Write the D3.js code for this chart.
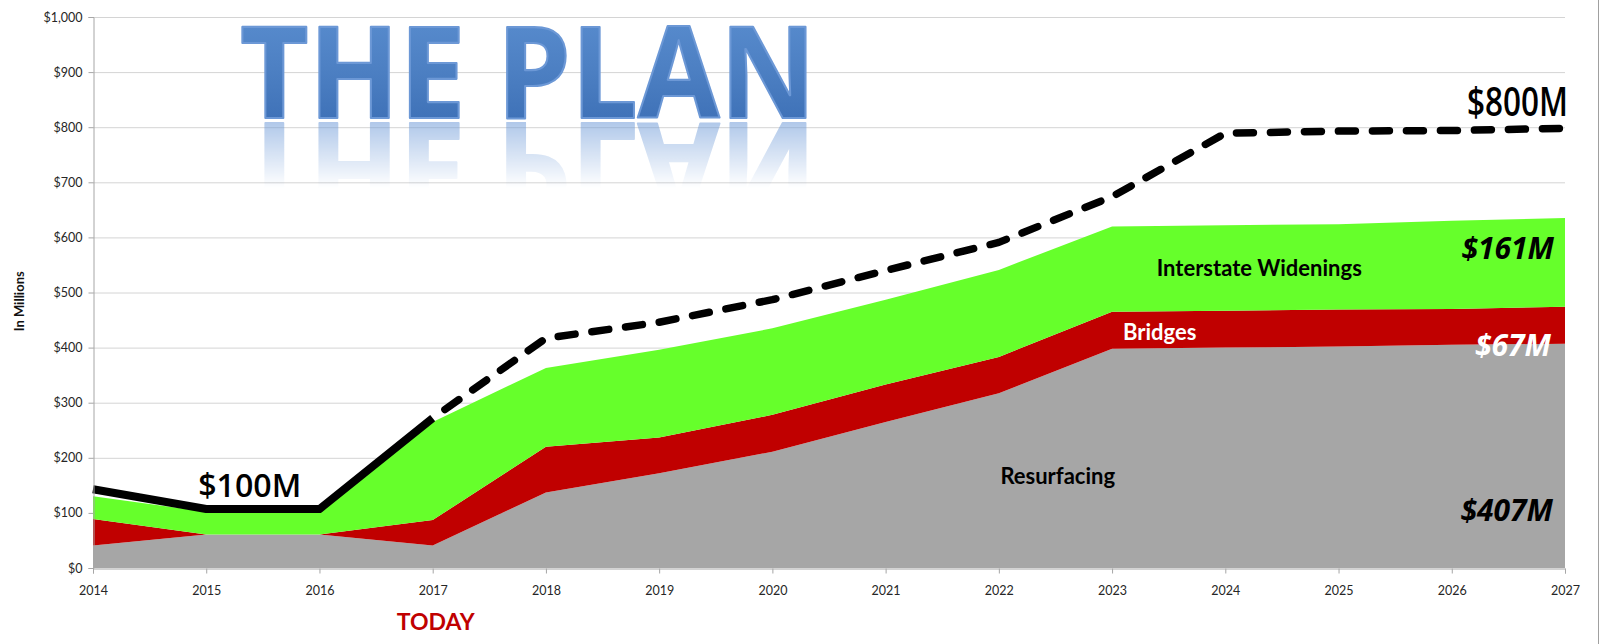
<!DOCTYPE html>
<html lang="en">
  <head>
    <meta charset="utf-8">
    <script src="https://cdn.jsdelivr.net/npm/d3@7"></script>
    <title>The Plan</title>
    <style>
      body { margin: 0; background: #fff; }
      text { font-family: Lato, "Open Sans", sans-serif; }
    </style>
  </head>
  <body>
    <script type="text/javascript">
      // values, in millions
      var years = [2014, 2015, 2016, 2017, 2018, 2019, 2020, 2021, 2022, 2023, 2024, 2025, 2026, 2027];
      var resurfacing = [41, 61, 61, 41, 137, 172, 211, 265, 317, 398, 400, 402, 405, 407];
      var bridges = [48, 0, 0, 46, 83, 65, 67, 68, 66, 67, 67, 67, 65, 67];
      var widenings = [41, 41, 41, 178, 143, 159, 157, 154, 158, 155, 155, 155, 160, 161];
      var total = [143, 107, 107, 272, 417, 446, 487, 540, 591, 674, 789, 793, 794, 798];
      var yTicks = [0, 100, 200, 300, 400, 500, 600, 700, 800, 900, 1000];
      var seriesNames = ["Resurfacing", "Bridges", "Interstate Widenings"];
      var seriesColors = ["#a6a6a6", "#c00000", "#66ff2b"];
      var todayYear = 2017;

      var w = 1601;
      var h = 644;
      var margin = { top: 17, left: 93, right: 36, bottom: 76 };

      var svg = d3.select("body").append("svg")
        .attr("width", w)
        .attr("height", h);

      var x = d3.scaleLinear()
        .domain([years[0], years[years.length - 1]])
        .range([margin.left, w - margin.right]);
      var y = d3.scaleLinear()
        .domain([0, 1000])
        .range([h - margin.bottom, margin.top]);

      // table for the stack
      var table = years.map(function(yr, i) {
        return { year: yr, "Resurfacing": resurfacing[i], "Bridges": bridges[i], "Interstate Widenings": widenings[i] };
      });

      // gridlines
      svg.append("g")
        .selectAll("line")
        .data(yTicks.slice(1))
        .enter()
        .append("line")
        .attr("x1", x.range()[0])
        .attr("x2", x.range()[1])
        .attr("y1", function(d) { return y(d) + 0.5; })
        .attr("y2", function(d) { return y(d) + 0.5; })
        .attr("stroke", "#d4d4d4")
        .attr("stroke-width", 1);

      // title with reflection
      var defs = svg.append("defs");
      var grad = defs.append("linearGradient")
        .attr("id", "titleGrad").attr("x1", 0).attr("y1", 0).attr("x2", 0).attr("y2", 1);
      grad.append("stop").attr("offset", "0%").attr("stop-color", "#7eaae3");
      grad.append("stop").attr("offset", "10%").attr("stop-color", "#5b8fd1");
      grad.append("stop").attr("offset", "50%").attr("stop-color", "#4d80c3");
      grad.append("stop").attr("offset", "100%").attr("stop-color", "#3568b0");
      var fade = defs.append("linearGradient")
        .attr("id", "fadeGrad").attr("x1", 0).attr("y1", 0).attr("x2", 0).attr("y2", 1);
      fade.append("stop").attr("offset", "0%").attr("stop-color", "#fff").attr("stop-opacity", 0.55);
      fade.append("stop").attr("offset", "100%").attr("stop-color", "#fff").attr("stop-opacity", 0);
      defs.append("mask").attr("id", "fadeMask")
        .append("rect")
        .attr("x", 200).attr("y", 122).attr("width", 680).attr("height", 66)
        .attr("fill", "url(#fadeGrad)");

      var titleX = 240, titleBase = 118, titleLen = 576;
      function titleText(g) {
        return g.append("text")
          .attr("x", titleX)
          .attr("y", titleBase)
          .attr("textLength", titleLen)
          .attr("lengthAdjust", "spacingAndGlyphs")
          .style("font-family", "'Open Sans', sans-serif")
          .style("font-weight", 700)
          .style("font-size", "127px")
          .attr("stroke-linejoin", "round")
          .text("THE PLAN");
      }
      titleText(svg.append("g").attr("mask", "url(#fadeMask)"))
        .attr("transform", "translate(0," + (2 * titleBase + 5) + ") scale(1,-1)")
        .attr("fill", "#6f9bd8")
        .attr("stroke", "#6f9bd8")
        .attr("stroke-width", 2);
      titleText(svg)
        .attr("fill", "url(#titleGrad)")
        .attr("stroke", "#6c98d6")
        .attr("stroke-width", 2.2);

      // stacked areas
      var stack = d3.stack().keys(seriesNames);
      var layers = stack(table);
      var area = d3.area()
        .x(function(d) { return x(d.data.year); })
        .y0(function(d) { return y(d[0]); })
        .y1(function(d) { return y(d[1]); });
      svg.append("g")
        .selectAll("path")
        .data(layers)
        .enter()
        .append("path")
        .attr("d", area)
        .attr("fill", function(d, i) { return seriesColors[i]; });

      // total line: solid up to today, dashed after
      var totals = years.map(function(yr, i) { return { year: yr, v: total[i] }; });
      var line = d3.line()
        .x(function(d) { return x(d.year); })
        .y(function(d) { return y(d.v); });
      svg.append("path")
        .datum(totals.filter(function(d) { return d.year <= todayYear; }))
        .attr("d", line)
        .attr("fill", "none")
        .attr("stroke", "#000")
        .attr("stroke-width", 8)
        .attr("stroke-linejoin", "round");
      svg.append("path")
        .datum(totals.filter(function(d) { return d.year >= todayYear; }))
        .attr("d", line)
        .attr("fill", "none")
        .attr("stroke", "#000")
        .attr("stroke-width", 7.5)
        .attr("stroke-linecap", "round")
        .attr("stroke-linejoin", "round")
        .attr("stroke-dasharray", "17,17")
        .attr("stroke-dashoffset", -15);

      // axes
      var yaxis = d3.axisLeft(y).tickValues(yTicks).tickFormat(d3.format("$,")).tickSize(5).tickPadding(6);
      var xaxis = d3.axisBottom(x).tickValues(years).tickFormat(d3.format("d")).tickSize(5).tickPadding(13);
      var gy = svg.append("g")
        .attr("transform", "translate(" + (margin.left + 0.5) + ",0)")
        .call(yaxis);
      var gx = svg.append("g")
        .attr("transform", "translate(0," + (h - margin.bottom + 0.5) + ")")
        .call(xaxis);
      [gx, gy].forEach(function(g) {
        g.select(".domain").attr("stroke", "#a6a6a6");
        g.selectAll(".tick line").attr("stroke", "#a6a6a6");
        g.selectAll(".tick text")
          .attr("fill", "#262626")
          .style("font-family", "Lato, sans-serif")
          .style("font-size", "12.5px");
      });

      // right border
      svg.append("line")
        .attr("x1", w - 2.5).attr("x2", w - 2.5)
        .attr("y1", 0).attr("y2", h)
        .attr("stroke", "#a0a0a0");

      // axis title
      svg.append("text")
        .attr("transform", "translate(24," + y(484) + ") rotate(-90)")
        .style("text-anchor", "middle")
        .style("font-size", "13px")
        .style("font-weight", "bold")
        .attr("fill", "#111")
        .text("In Millions");

      // annotations
      function label(txt, xp, yp, opts) {
        var t = svg.append("text")
          .attr("x", xp)
          .attr("y", yp)
          .style("text-anchor", opts.anchor || "start")
          .style("font-size", opts.size + "px")
          .style("font-weight", opts.weight || "normal")
          .style("font-style", opts.style || "normal")
          .style("font-family", opts.family || "Lato, sans-serif")
          .attr("fill", opts.color || "#000")
          .text(txt);
        if (opts.len) t.attr("textLength", opts.len).attr("lengthAdjust", "spacingAndGlyphs");
      }
      var xEnd = x(years[years.length - 1]);
      label("$100M", x(2015) - 8, y(total[1]) - 12, { size: 33, len: 103, weight: 600, family: "'Open Sans', sans-serif" });
      label("$800M", xEnd + 3, y(total[total.length - 1]) - 12, { size: 39, len: 101, weight: 600, anchor: "end", family: "'Open Sans', sans-serif" });
      label("$" + widenings[widenings.length - 1] + "M", xEnd - 11, y(560), { size: 30, weight: "bold", style: "italic", anchor: "end", family: "'Open Sans', sans-serif" });
      label("$" + bridges[bridges.length - 1] + "M", xEnd - 14, y(385), { size: 30, weight: "bold", style: "italic", anchor: "end", color: "#fff", family: "'Open Sans', sans-serif" });
      label("$" + resurfacing[resurfacing.length - 1] + "M", xEnd - 12, y(86), { size: 30, weight: "bold", style: "italic", anchor: "end", family: "'Open Sans', sans-serif" });
      label("Interstate Widenings", x(2024.3), y(530), { size: 22, weight: "bold", anchor: "middle" });
      label("Bridges", x(2023.42), y(413), { size: 22, weight: "bold", anchor: "middle", color: "#fff" });
      label("Resurfacing", x(2022.52), y(152), { size: 22, weight: "bold", anchor: "middle" });
      label("TODAY", x(todayYear) + 3, h - 14, { size: 23, weight: "bold", anchor: "middle", color: "#c00000" });
    </script>
  </body>
</html>
